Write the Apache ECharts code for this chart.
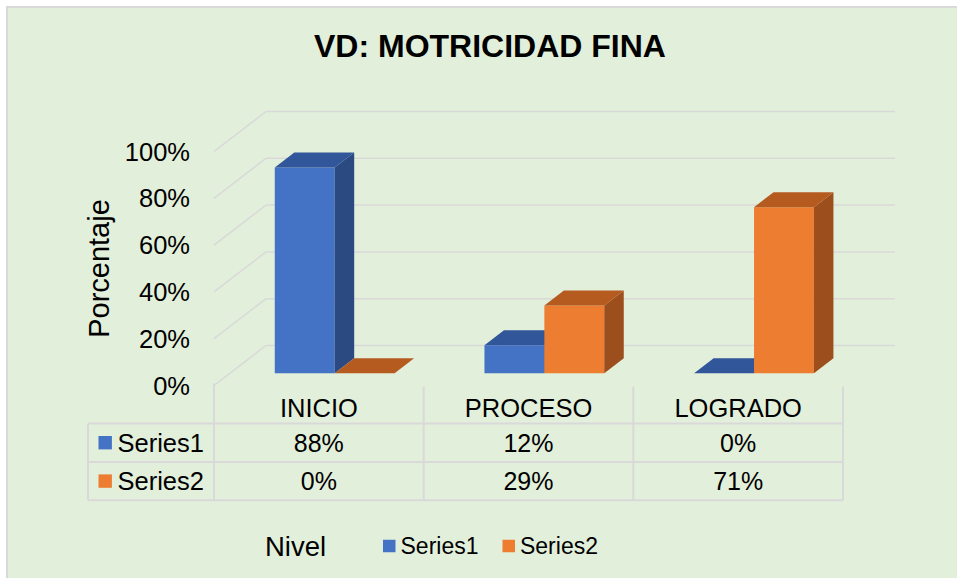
<!DOCTYPE html>
<html>
<head>
<meta charset="utf-8">
<script src="https://cdn.jsdelivr.net/npm/echarts@6/dist/echarts.min.js"></script>
<style>
html,body{margin:0;padding:0;background:#fff;}
#chart{width:957px;height:578px;}
</style>
</head>
<body>
<div id="chart"></div>
<script>
// ---- data ----
const categories = ['INICIO', 'PROCESO', 'LOGRADO'];
const seriesNames = ['Series1', 'Series2'];
const series1 = [88, 12, 0];
const series2 = [0, 29, 71];
const yTicks = [0, 20, 40, 60, 80, 100];

// ---- style / layout constants ----
const FONT = 'Liberation Sans, Arial, sans-serif';
const DX = 52, DY = 40;          // depth vector of the 3D box
const F0 = 0.305, DD = 0.375;    // bar depth start / depth size (fraction)
const GRID_COLOR = '#D9D9D9';
const faces = [
  { front: '#4472C4', top: '#31569A', side: '#2B4A82' },
  { front: '#ED7D31', top: '#B55B20', side: '#9C4F1C' }
];
const allValues = [series1, series2];

const chart = echarts.init(document.getElementById('chart'), null, { renderer: 'svg' });

function gridRender(params, api) {
  const cs = params.coordSys;
  const y = api.coord([0, api.value(1)])[1];
  const st = { stroke: GRID_COLOR, lineWidth: 1.5 };
  return {
    type: 'group',
    children: [
      { type: 'line', shape: { x1: cs.x, y1: y, x2: cs.x + DX, y2: y - DY }, style: st },
      { type: 'line', shape: { x1: cs.x + DX, y1: y - DY, x2: cs.x + cs.width + DX, y2: y - DY }, style: st }
    ]
  };
}

function makeBarRender(sIdx) {
  const c = faces[sIdx];
  return function (params, api) {
    const cat = api.value(0), v = api.value(1);
    const base = api.coord([cat, 0]);
    const topP = api.coord([cat, v]);
    const band = api.size([1, 0])[0];
    const bw = band / 3.5;
    const x0 = base[0] - bw + sIdx * bw + F0 * DX;
    const x1 = x0 + bw;
    const yb = base[1] - F0 * DY;
    const yt = topP[1] - F0 * DY;
    const ddx = DD * DX, ddy = DD * DY;
    const children = [];
    if (yb - yt > 0.5) {
      children.push({ type: 'rect', shape: { x: x0, y: yt, width: bw, height: yb - yt }, style: { fill: c.front } });
      children.push({ type: 'polygon', shape: { points: [[x1, yt], [x1 + ddx, yt - ddy], [x1 + ddx, yb - ddy], [x1, yb]] }, style: { fill: c.side } });
    }
    children.push({ type: 'polygon', shape: { points: [[x0, yt], [x1, yt], [x1 + ddx, yt - ddy], [x0 + ddx, yt - ddy]] }, style: { fill: c.top } });
    return { type: 'group', children: children };
  };
}

function tableRender(params, api) {
  const cs = params.coordSys;
  const cat = api.value(0);
  const base = api.coord([cat, 0]);
  const yAxisY = base[1];
  const rowTop = yAxisY + 38;     // top border of first data row
  const rowH = 38.4;
  const left = 88;
  const right = cs.x + cs.width;
  const band = api.size([1, 0])[0];
  const lineSt = { stroke: GRID_COLOR, lineWidth: 2 };
  const children = [];
  allValues.forEach(function (arr, r) {
    children.push({
      type: 'text',
      style: { text: arr[cat] + '%', x: base[0], y: rowTop + rowH * (r + 0.5), align: 'center', verticalAlign: 'middle', font: '25px ' + FONT, fill: '#000' }
    });
  });
  const cx = base[0] + band / 2;
  children.push({ type: 'line', shape: { x1: cx, y1: yAxisY + 1, x2: cx, y2: rowTop + 2 * rowH }, style: lineSt });
  if (params.dataIndex === 0) {
    const lx = base[0] - band / 2;
    children.push({ type: 'line', shape: { x1: lx, y1: yAxisY - 2, x2: lx, y2: rowTop + 2 * rowH }, style: lineSt });
    children.push({ type: 'line', shape: { x1: left, y1: rowTop, x2: left, y2: rowTop + 2 * rowH }, style: lineSt });
    for (let r = 0; r <= 2; r++) {
      children.push({ type: 'line', shape: { x1: left, y1: rowTop + r * rowH, x2: right, y2: rowTop + r * rowH }, style: lineSt });
    }
    seriesNames.forEach(function (name, r) {
      const cy = rowTop + rowH * (r + 0.5);
      children.push({ type: 'rect', shape: { x: 98.5, y: cy - 6.7, width: 13.4, height: 13.4 }, style: { fill: faces[r].front } });
      children.push({ type: 'text', style: { text: name, x: 117.5, y: cy, align: 'left', verticalAlign: 'middle', font: '25.5px ' + FONT, fill: '#000' } });
    });
  }
  return { type: 'group', children: children };
}

const option = {
  backgroundColor: '#ffffff',
  color: [faces[0].front, faces[1].front],
  textStyle: { fontFamily: FONT },
  animation: false,
  title: {
    text: 'VD: MOTRICIDAD FINA',
    left: 314, top: 30, padding: 0,
    textStyle: { fontSize: 32, fontWeight: 'bold', color: '#000', fontFamily: FONT }
  },
  legend: {
    data: seriesNames,
    left: 383, top: 533, padding: 0,
    icon: 'rect', itemWidth: 12.5, itemHeight: 12.5, itemGap: 24,
    textStyle: { fontSize: 23, color: '#000', lineHeight: 26, fontFamily: FONT }
  },
  graphic: [
    { type: 'rect', z: -10, shape: { x: 7, y: 7, width: 960, height: 580 }, style: { fill: '#E2EFDA', stroke: '#D9D9D9', lineWidth: 2 } },
    { type: 'text', x: 265, y: 546, style: { text: 'Nivel', font: '27.5px ' + FONT, fill: '#000', verticalAlign: 'middle', align: 'left' } }
  ],
  grid: { left: 214, right: 114, top: 151.5, bottom: 192.5, containLabel: false },
  xAxis: {
    type: 'category',
    data: categories,
    axisLine: { show: false }, axisTick: { show: false }, splitLine: { show: false },
    axisLabel: { fontSize: 25.5, color: '#000', margin: 22.5, verticalAlign: 'middle', fontFamily: FONT }
  },
  yAxis: {
    type: 'value', min: 0, max: 100, interval: 20,
    name: 'Porcentaje', nameLocation: 'middle', nameRotate: 90, nameGap: 99,
    nameTextStyle: { fontSize: 29, color: '#000', fontFamily: FONT },
    axisLine: { show: false }, axisTick: { show: false }, splitLine: { show: false },
    axisLabel: { fontSize: 25.5, color: '#000', margin: 24, formatter: '{value}%', fontFamily: FONT }
  },
  series: [
    { type: 'custom', name: '_grid', silent: true, z: 1, renderItem: gridRender, data: yTicks.map(function (v) { return [0, v]; }) },
    { type: 'custom', name: seriesNames[0], z: 3, itemStyle: { color: faces[0].front }, renderItem: makeBarRender(0), data: series1.map(function (v, i) { return [i, v]; }) },
    { type: 'custom', name: seriesNames[1], z: 4, itemStyle: { color: faces[1].front }, renderItem: makeBarRender(1), data: series2.map(function (v, i) { return [i, v]; }) },
    { type: 'custom', name: '_table', silent: true, z: 2, renderItem: tableRender, data: categories.map(function (c, i) { return [i, 0]; }) }
  ]
};
chart.setOption(option);
</script>
</body>
</html>
